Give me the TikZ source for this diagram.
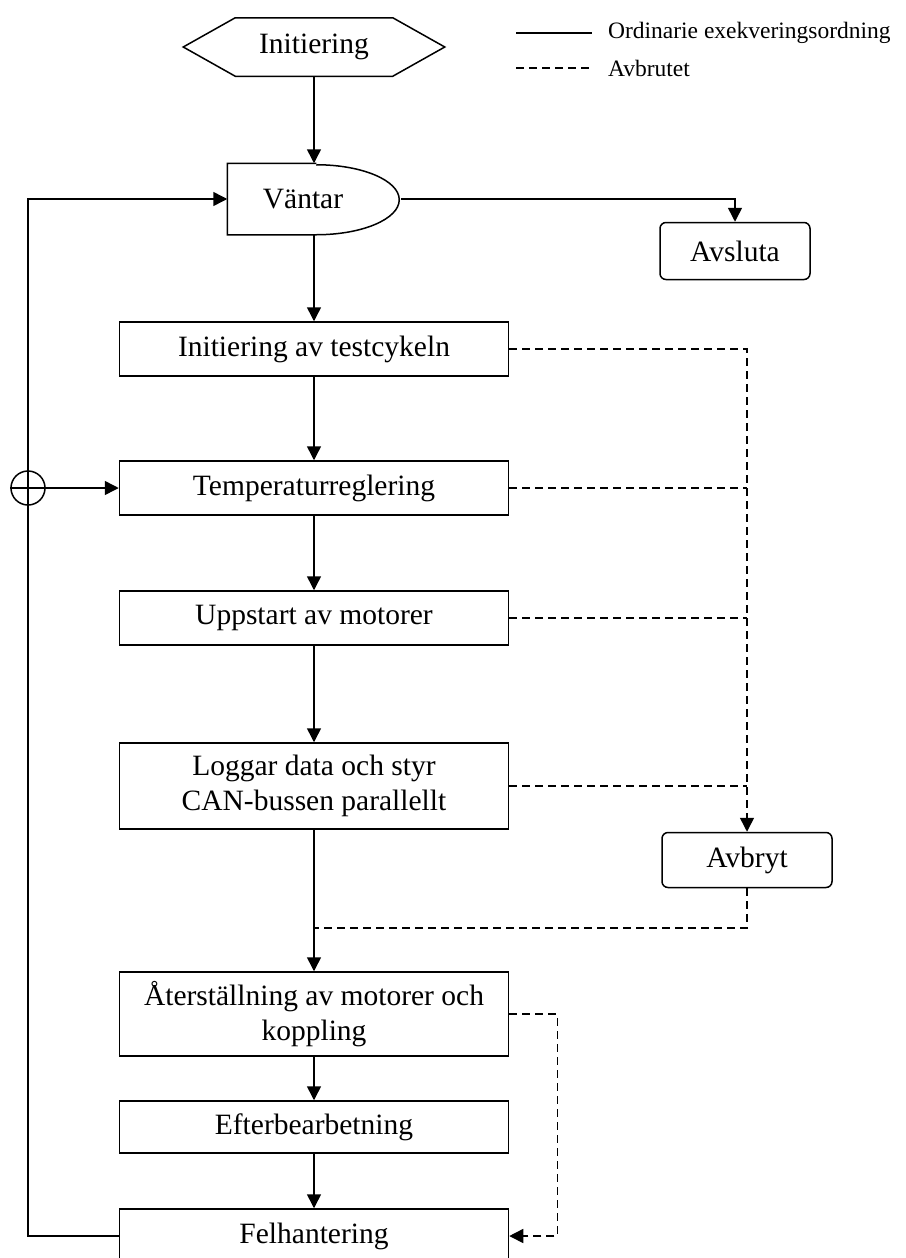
\documentclass[tikz,border=0pt]{standalone}
\usepackage{fontspec}
\setmainfont{Liberation Serif}
\usetikzlibrary{arrows.meta}

\begin{document}
\begin{tikzpicture}[x = 1pt, y = -1pt, line width = 1.5pt,
    >={Triangle[length = 14pt, width = 14pt]},
    box/.style = {rectangle, draw, minimum width = 389pt, minimum height = 54pt,
        inner sep = 0pt, align = center, font = \fontsize{29.5}{35}\selectfont},
    endbox/.style = {rectangle, rounded corners = 6pt, draw, minimum width = 150pt,
        minimum height = 57pt, inner sep = 0pt, font = \fontsize{29.5}{35}\selectfont},
    brk/.style = {dash pattern = on 8pt off 5pt}]
\useasboundingbox (0,0) rectangle (905,1258);
\draw (314,47) node[minimum width = 260pt, minimum height = 57pt, inner sep = 0pt,
        font = \fontsize{29.5}{35}\selectfont](a0){Initiering}
    (314,199) node[minimum width = 172pt, minimum height = 70pt, inner sep = 0pt,
        font = \fontsize{29.5}{35}\selectfont](a1){V\"antar\kern22pt\relax}
    (314,349) node[box](b1){Initiering av testcykeln}
    (314,488) node[box](b2){Temperaturreglering}
    (314,618) node[box](b3){Uppstart av motorer}
    (314,786) node[box, minimum height = 86pt](b4){Loggar data och styr\\CAN-bussen parallellt}
    (314,1014) node[box, minimum height = 84pt](b5){\AA terst\"allning av motorer och\\koppling}
    (314,1127) node[box, minimum height = 52pt](b6){Efterbearbetning}
    (314,1236) node[box](b7){Felhantering}
    (735,251) node[endbox](a2){Avsluta}
    (747,860) node[endbox, minimum width = 170pt, minimum height = 55pt](a3){Avbryt}
    (28,488) node[circle, draw, minimum size = 34pt, inner sep = 0pt](c1){};
    % start and wait shapes
    \draw (a0.west) -- ([xshift = 52pt]a0.north west) -- ([xshift = -52pt]a0.north east)
        -- (a0.east) -- ([xshift = -52pt]a0.south east) -- ([xshift = 52pt]a0.south west) -- cycle;
    \draw ([xshift = 89pt]a1.north west) -- (a1.north west) -- (a1.south west)
        -- ([xshift = 89pt]a1.south west) arc [start angle = -90, end angle = 90,
        x radius = 83pt, y radius = 35pt];
    % ordinary order
    \draw [->] (a0) -- (a1);
    \draw [->] (a1) -- (b1);
    \draw [->] (b1) -- (b2);
    \draw [->] (b2) -- (b3);
    \draw [->] (b3) -- (b4);
    \draw [->] (b4) -- (b5);
    \draw [->] (b5) -- (b6);
    \draw [->] (b6) -- (b7);
    \draw [->] (a1.east) -| (a2.north);
    \draw [->] (b7.west) -| (c1.center) |- (a1.west);
    \draw [->] (c1.west) -- (b2.west);
    % aborted
    \coordinate (m1) at (314,928);
    \draw [brk, ->] (b1.east) -| (a3.north);
    \draw [brk] (b2.east) -- (b2.east -| a3.north);
    \draw [brk] (b3.east) -- (b3.east -| a3.north);
    \draw [brk] (b4.east) -- (b4.east -| a3.north);
    \draw [brk] (a3.south) |- (m1);
    \draw [brk, ->] (b5.east) -- ++(48,0) |- (b7.east);
    % legend
    \draw (516,33) -- (592,33);
    \draw [brk] (516,68) -- (592,68);
    \node[anchor = west, font = \fontsize{23.5}{28}\selectfont](l1) at (604,33) {Ordinarie exekveringsordning};
    \node[anchor = west, font = \fontsize{23.5}{28}\selectfont](l2) at (604,68) {Avbrutet};
\end{tikzpicture}
\end{document}
